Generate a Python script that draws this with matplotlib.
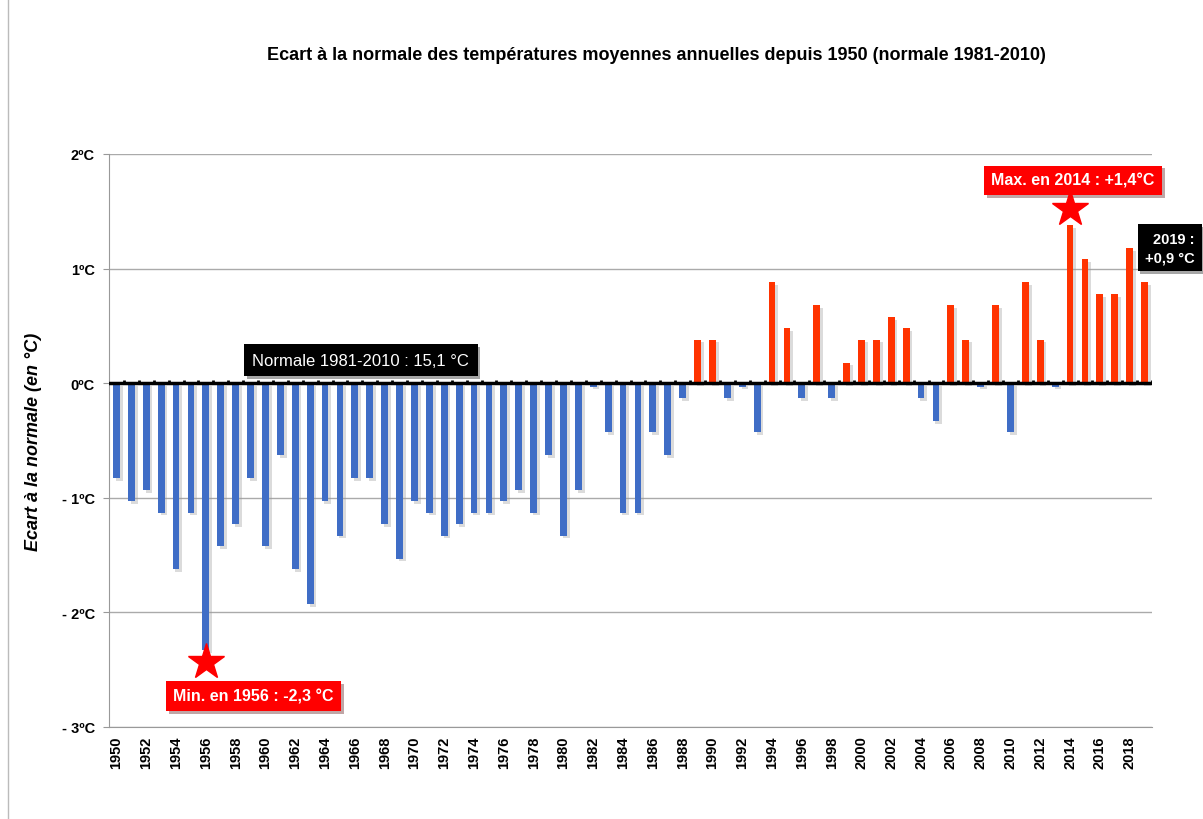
import matplotlib.pyplot as plt
import matplotlib.patheffects as pe
from matplotlib.patches import Rectangle
import numpy as np

plt.rcParams['font.family'] = ['Liberation Sans', 'DejaVu Sans']

years = np.arange(1950, 2020)
ecart = [-0.83, -1.03, -0.93, -1.13, -1.62, -1.13, -2.33, -1.42, -1.23, -0.83,
         -1.42, -0.63, -1.62, -1.93, -1.03, -1.33, -0.83, -0.83, -1.23, -1.53,
         -1.03, -1.13, -1.33, -1.23, -1.13, -1.13, -1.03, -0.93, -1.13, -0.63,
         -1.33, -0.93, -0.03, -0.43, -1.13, -1.13, -0.43, -0.63, -0.13, 0.38,
         0.38, -0.13, -0.03, -0.43, 0.88, 0.48, -0.13, 0.68, -0.13, 0.18,
         0.38, 0.38, 0.58, 0.48, -0.13, -0.33, 0.68, 0.38, -0.03, 0.68,
         -0.43, 0.88, 0.38, -0.03, 1.38, 1.08, 0.78, 0.78, 1.18, 0.88]
yticks = [2, 1, 0, -1, -2, -3]
ytick_labels = ['2ºC', '1ºC', '0ºC', '- 1ºC', '- 2ºC', '- 3ºC']

ecart = np.array(ecart)
colors = np.where(ecart >= 0, '#FF3300', '#3F6DC6')

fig = plt.figure(figsize=(12.03, 8.2), dpi=100)
ax = fig.add_axes([109/1203, 1 - 728/820, (1152-109)/1203, (728-155)/820])

shadow = [pe.SimplePatchShadow(offset=(2, -2), shadow_rgbFace='#999999', alpha=0.35), pe.Normal()]
bars = ax.bar(years, ecart, width=0.46, color=colors, zorder=3)
for b in bars:
    b.set_path_effects(shadow)

ax.set_xlim(1949.5, 2019.5)
ax.set_ylim(-3, 2)
ax.set_yticks(yticks)
ax.set_yticklabels(ytick_labels, fontsize=10.5, fontweight='bold')
ax.set_xticks(years[::2])
ax.set_xticklabels(years[::2], rotation=90, fontsize=10.5, fontweight='bold')
ax.tick_params(axis='y', direction='out', length=4, color='#999999', pad=6)
ax.tick_params(axis='x', length=0, pad=6)
ax.grid(axis='y', color='#aaaaaa', lw=1, zorder=0)
for s in ['top', 'right']:
    ax.spines[s].set_visible(False)
for s in ['left', 'bottom']:
    ax.spines[s].set_color('#999999')

# zero line with category ticks
ax.axhline(0, color='black', lw=2.5, zorder=4)
ax.vlines(years + 0.5, 0, 0.03, color='black', lw=2, zorder=4)

ax.set_ylabel('Ecart à la normale (en °C)', fontsize=13, fontweight='bold',
              fontstyle='italic', labelpad=14)
fig.text(656/1203, 1 - 56/820,
         'Ecart à la normale des températures moyennes annuelles depuis 1950 (normale 1981-2010)',
         ha='center', va='center', fontsize=13, fontweight='bold')

box_shadow = [pe.withSimplePatchShadow(offset=(2, -2), alpha=0.35)]

t = ax.text(1966.4, 0.2, 'Normale 1981-2010 : 15,1 °C', ha='center', va='center',
            color='white', fontsize=12, zorder=6,
            bbox=dict(boxstyle='square,pad=0.5', fc='black', ec='none'))
t.get_bbox_patch().set_path_effects(box_shadow)

t = ax.text(1959.2, -2.73, 'Min. en 1956 : -2,3 °C', ha='center', va='center',
            color='white', fontsize=11.5, fontweight='bold', zorder=6,
            bbox=dict(boxstyle='square,pad=0.45', fc='#FF0000', ec='none'))
t.get_bbox_patch().set_path_effects(box_shadow)

t = ax.text(2014.2, 1.77, 'Max. en 2014 : +1,4°C', ha='center', va='center',
            color='white', fontsize=11.5, fontweight='bold', zorder=6,
            bbox=dict(boxstyle='square,pad=0.45', fc='#FF0000', ec='none'))
t.get_bbox_patch().set_path_effects(box_shadow)

t = ax.text(2020.7, 1.18, '2019 :\n+0,9 °C', ha='center', va='center', multialignment='right',
            color='white', fontsize=10.5, fontweight='bold', zorder=6, clip_on=False,
            linespacing=1.4,
            bbox=dict(boxstyle='square,pad=0.5', fc='black', ec='none'))
t.get_bbox_patch().set_path_effects(box_shadow)

ax.plot([1956, 2014], [-2.43, 1.52], ls='none', marker='*', ms=27, color='#FF0000',
        markeredgecolor='#FF0000', zorder=7, clip_on=False)

fig.patches.append(Rectangle((8/1203, -0.01), 1.2, 1.02, transform=fig.transFigure,
                             fill=False, ec='#bbbbbb', lw=1))

fig.savefig('out.png', dpi=100)
